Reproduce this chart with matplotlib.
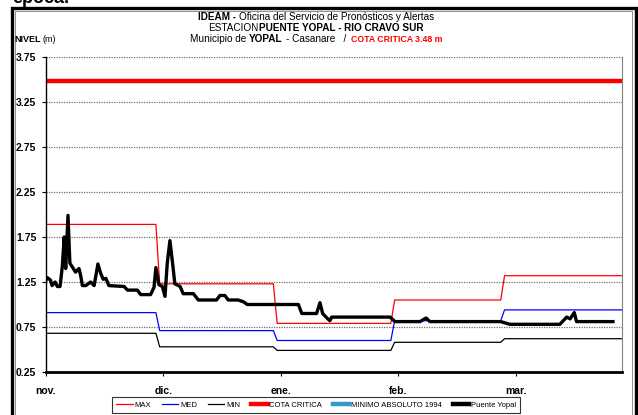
import numpy as np
import matplotlib
matplotlib.use("Agg")
import matplotlib.pyplot as plt
from matplotlib.lines import Line2D
from matplotlib.patches import Rectangle

FONT = ['Liberation Sans Narrow', 'Liberation Sans', 'DejaVu Sans']
plt.rcParams['font.family'] = FONT

# monthly reference levels (m), one value per month nov..mar
months = ['nov.', 'dic.', 'ene.', 'feb.', 'mar.']
month_start = [0, 30, 61, 92, 121, 152]      # day index of nov 1 .. apr 1
month_ticks = [0, 31, 62, 93, 124]
nivel_max = [1.89, 1.23, 0.79, 1.05, 1.32]
nivel_med = [0.91, 0.71, 0.60, 0.82, 0.94]
nivel_min = [0.68, 0.53, 0.49, 0.58, 0.62]
cota_critica = 3.48
minimo_absoluto = 0.15

# Puente Yopal readings: day since nov 1, level (m)
obs_day = [0.0, 0.3, 1.2, 1.6, 2.4, 3.0, 3.7, 4.3, 4.8, 5.2, 5.8, 6.3, 6.9, 7.8,
           8.7, 9.2, 9.6, 10.5, 11.8, 12.7, 13.7, 14.4, 15.1, 15.8, 16.6, 20.6,
           21.5, 24.1, 25.0, 27.6, 28.5, 29.0, 29.8, 30.7, 31.4, 32.0, 32.7, 33.4,
           34.0, 35.4, 36.2, 38.9, 40.2, 45.0, 45.9, 47.2, 48.1, 50.7, 52.1, 53.1,
           66.6, 67.5, 71.4, 72.3, 73.0, 73.9, 74.9, 75.4, 90.8, 92.1, 98.7, 100.3,
           101.3, 120.0, 122.4, 135.6, 137.4, 138.3, 139.4, 140.0, 149.6]
obs_nivel = [1.27, 1.30, 1.27, 1.21, 1.25, 1.20, 1.20, 1.42, 1.75, 1.40, 1.99, 1.46, 1.42, 1.36,
             1.40, 1.31, 1.21, 1.21, 1.25, 1.21, 1.45, 1.35, 1.28, 1.29, 1.21, 1.20,
             1.16, 1.16, 1.11, 1.11, 1.19, 1.41, 1.22, 1.20, 1.09, 1.46, 1.71, 1.46,
             1.23, 1.20, 1.12, 1.12, 1.05, 1.05, 1.10, 1.10, 1.05, 1.05, 1.03, 1.00,
             1.00, 0.90, 0.90, 1.02, 0.90, 0.86, 0.82, 0.86, 0.86, 0.81, 0.81, 0.85,
             0.81, 0.81, 0.78, 0.78, 0.86, 0.84, 0.91, 0.81, 0.81]


def monthly_steps(values):
    xs, ys = [], []
    for i, v in enumerate(values):
        end = month_start[i + 1] - 1 if i < len(values) - 1 else month_start[-1]
        xs += [month_start[i], end]
        ys += [v, v]
    return xs, ys


W, H = 638, 415
fig = plt.figure(figsize=(W / 100, H / 100), dpi=100)
ax = fig.add_axes([46 / W, 1 - 372 / H, 576 / W, 315 / H])

x0, x1 = month_start[0], month_start[-1]
ax.plot(*monthly_steps(nivel_max), color='#FF0000', lw=0.9)
ax.plot(*monthly_steps(nivel_med), color='#0000FF', lw=0.9)
ax.plot(*monthly_steps(nivel_min), color='black', lw=0.9)
ax.plot([x0, x1], [cota_critica, cota_critica], color='#FF0000', lw=3.2)
ax.plot([x0, x1], [minimo_absoluto, minimo_absoluto], color='#3399CC', lw=3.2)
ax.plot(obs_day, obs_nivel, color='black', lw=2.4, solid_joinstyle='round', zorder=5)

ax.set_xlim(x0, x1)
ax.set_ylim(0.25, 3.75)
ax.set_yticks(np.arange(0.25, 3.76, 0.5))
ax.set_yticklabels([f'{v:.2f}' for v in np.arange(0.25, 3.76, 0.5)])
ax.set_xticks(month_ticks)
ax.set_xticklabels(months)
ax.tick_params(axis='both', labelsize=7.5, length=3, width=0.8, direction='out')
ax.tick_params(axis='y', pad=4)
ax.tick_params(axis='x', pad=7)
for lbl in ax.get_xticklabels() + ax.get_yticklabels():
    lbl.set_fontweight('bold')

ax.yaxis.grid(True, linestyle=(0, (1, 1)), color='#707070', lw=0.9)
ax.spines['top'].set_visible(False)
ax.spines['right'].set_color('#808080')
ax.spines['left'].set_linewidth(1.0)
ax.spines['bottom'].set_linewidth(2.0)

# legend row under the plot
handles = [
    Line2D([], [], color='#FF0000', lw=0.9),
    Line2D([], [], color='#0000FF', lw=0.9),
    Line2D([], [], color='black', lw=0.9),
    Line2D([], [], color='#FF0000', lw=3.2),
    Line2D([], [], color='#3399CC', lw=3.2),
    Line2D([], [], color='black', lw=3.2),
]
labels = ['MAX', 'MED', 'MIN', 'COTA CRITICA', 'MINIMO ABSOLUTO 1994', 'Puente Yopal']
leg = fig.legend(handles, labels, loc='center', bbox_to_anchor=(316 / W, 1 - 405 / H),
                 ncol=6, fontsize=5.5, frameon=True, fancybox=False, handlelength=2.2,
                 handletextpad=0.2, columnspacing=1.4, borderpad=0.55)
leg.get_frame().set_edgecolor('black')
leg.get_frame().set_linewidth(0.8)

# outer frame
fig.patches.append(Rectangle((12 / W, -0.05), 624 / W, 1.05 - 8 / H, transform=fig.transFigure,
                             fill=False, edgecolor='black', lw=2.4))
fig.patches.append(Rectangle((15 / W, -0.05), 617 / W, 1.05 - 11 / H, transform=fig.transFigure,
                             fill=False, edgecolor='#909090', lw=0.7))

fig.text(12 / W, 1 - 3 / H, 'época.', fontsize=13, fontweight='bold', va='baseline',
         family=['Liberation Sans', 'DejaVu Sans'])

fig.canvas.draw()
renderer = fig.canvas.get_renderer()


def text_width(s, size, weight):
    t = fig.text(0, 0, s, fontsize=size, fontweight=weight)
    w = t.get_window_extent(renderer).width
    t.remove()
    return w


def rich_line(xc, y, parts, align='center'):
    # parts: (text, size, weight, color, space_before)
    widths = [text_width(p[0], p[1], p[2]) for p in parts]
    gaps = [p[4] for p in parts]
    total = sum(widths) + sum(gaps)
    x = xc - total / 2 if align == 'center' else xc
    for (s, size, weight, color, gap), w in zip(parts, widths):
        x += gap
        fig.text(x / W, 1 - y / H, s, fontsize=size, fontweight=weight, color=color,
                 ha='left', va='center')
        x += w


rich_line(316, 16.5, [('IDEAM -', 7.2, 'bold', 'black', 0),
                      ('Oficina del Servicio de Pronósticos y Alertas', 7.2, 'normal', 'black', 3)])
rich_line(316, 28, [('ESTACION', 7.2, 'normal', 'black', 0),
                    ('PUENTE YOPAL - RIO CRAVO SUR', 7.2, 'bold', 'black', 1)])
rich_line(316, 39.5, [('Municipio de', 7.2, 'normal', 'black', 0),
                      ('YOPAL', 7.2, 'bold', 'black', 3),
                      ('- Casanare   /', 7.2, 'normal', 'black', 3),
                      ('COTA CRITICA 3.48 m', 6.3, 'bold', '#FF0000', 5)])
rich_line(14, 39.5, [('NIVEL', 6.5, 'bold', 'black', 0),
                     ('(m)', 6.5, 'normal', 'black', 2)], align='left')

fig.savefig('out.png', dpi=100)
